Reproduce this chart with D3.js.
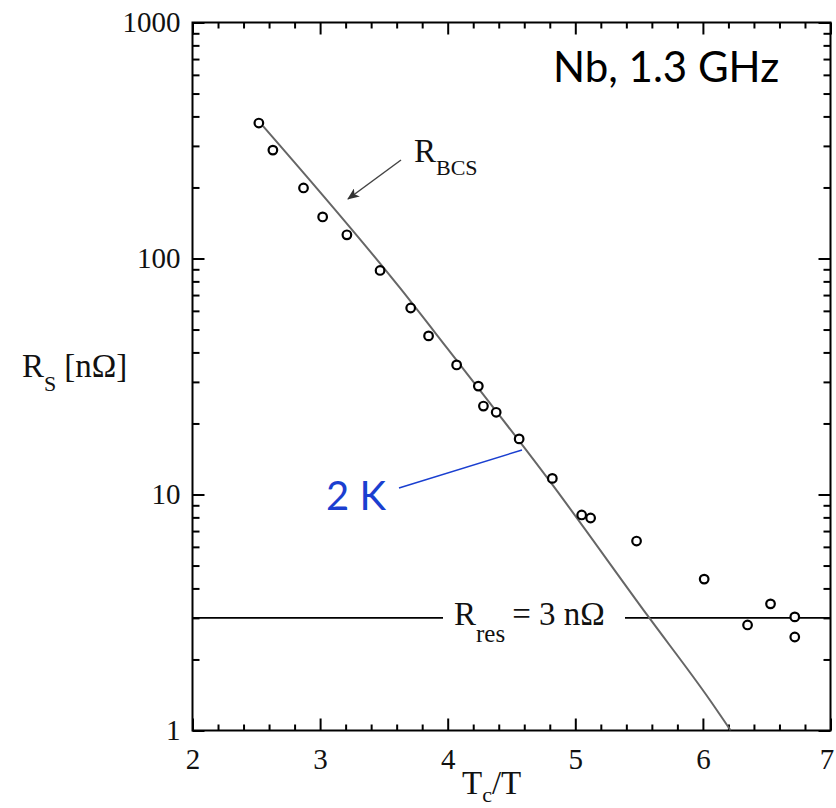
<!DOCTYPE html>
<html>
<head>
<meta charset="utf-8">
<script src="https://cdn.jsdelivr.net/npm/d3@7"></script>
<style>
  html, body { margin: 0; padding: 0; background: #fff; }
  svg { display: block; }
</style>
</head>
<body>
<svg id="chart" width="836" height="808"></svg>
<script>
// ---- data ----
const tcOverT = [2.52, 2.63, 2.87, 3.02, 3.21, 3.47, 3.71, 3.85, 4.07, 4.24, 4.28, 4.38, 4.56, 4.82, 5.05, 5.12, 5.48, 6.01, 6.35, 6.53, 6.72, 6.72];
const rsValues = [375, 288, 199, 150, 126, 89, 61.7, 47, 35.4, 28.8, 23.7, 22.3, 17.2, 11.7, 8.19, 7.95, 6.35, 4.38, 2.80, 3.44, 3.03, 2.49];
const bcsX = [2.553, 3.626, 3.994, 4.794, 5.570, 6.053, 6.218];
const bcsR = [364, 75, 41.8, 11.5, 3.05, 1.35, 1.0];
const rRes = 3;
const xMajorTicks = [2, 3, 4, 5, 6, 7];
const yMajorTicks = [1, 10, 100, 1000];
const yTickLabels = ["1", "10", "100", "1000"];

// ---- layout ----
const svg = d3.select("#chart");
const L = 192.5, R = 830.5, T = 22.5, B = 730.5;
const x = d3.scaleLinear().domain([2, 7]).range([L, R]);
const y = d3.scaleLog().domain([1, 1000]).range([B, T]);

const serif = "'Liberation Serif', 'Times New Roman', serif";
const sans = "Lato, 'Open Sans', sans-serif";

// minor ticks
const xMinor = d3.range(2, 7.0001, 0.2).map(v => +v.toFixed(1)).filter(v => !xMajorTicks.includes(v));
const yMinor = [];
[1, 10, 100].forEach(d => { for (let k = 2; k <= 9; k++) yMinor.push(d * k); });

function styleAxis(g) {
  g.select(".domain").remove();
  g.selectAll(".tick line").attr("stroke", "#000").attr("stroke-width", 2);
  g.selectAll(".tick text").attr("font-family", serif).attr("font-size", 29).attr("fill", "#111");
}

// bottom axis
const bottomAxis = svg.append("g").attr("transform", `translate(0,${B})`)
  .call(d3.axisBottom(x).tickValues(xMajorTicks).tickSizeInner(-12).tickSizeOuter(0).tickPadding(18).tickFormat(d3.format("d")))
  .call(styleAxis);
bottomAxis.selectAll(".tick text").filter(d => d === 7).attr("dx", -4);
svg.append("g").attr("transform", `translate(0,${B})`)
  .call(d3.axisBottom(x).tickValues(xMinor).tickSizeInner(-6).tickSizeOuter(0).tickFormat(""))
  .call(styleAxis);
// top axis
svg.append("g").attr("transform", `translate(0,${T})`)
  .call(d3.axisTop(x).tickValues(xMajorTicks).tickSizeInner(-12).tickSizeOuter(0).tickFormat(""))
  .call(styleAxis);
svg.append("g").attr("transform", `translate(0,${T})`)
  .call(d3.axisTop(x).tickValues(xMinor).tickSizeInner(-6).tickSizeOuter(0).tickFormat(""))
  .call(styleAxis);
// left axis
svg.append("g").attr("transform", `translate(${L},0)`)
  .call(d3.axisLeft(y).tickValues(yMajorTicks).tickSizeInner(-12).tickSizeOuter(0).tickPadding(12)
    .tickFormat((d, i) => yTickLabels[i]))
  .call(styleAxis);
svg.append("g").attr("transform", `translate(${L},0)`)
  .call(d3.axisLeft(y).tickValues(yMinor).tickSizeInner(-7).tickSizeOuter(0).tickFormat(""))
  .call(styleAxis);
// right axis
svg.append("g").attr("transform", `translate(${R},0)`)
  .call(d3.axisRight(y).tickValues(yMajorTicks).tickSizeInner(-12).tickSizeOuter(0).tickFormat(""))
  .call(styleAxis);
svg.append("g").attr("transform", `translate(${R},0)`)
  .call(d3.axisRight(y).tickValues(yMinor).tickSizeInner(-7).tickSizeOuter(0).tickFormat(""))
  .call(styleAxis);

// frame
svg.append("rect").attr("x", L).attr("y", T).attr("width", R - L).attr("height", B - T)
  .attr("fill", "none").attr("stroke", "#000").attr("stroke-width", 2);

// clip
svg.append("clipPath").attr("id", "plotclip").append("rect")
  .attr("x", L).attr("y", T).attr("width", R - L).attr("height", B - T);

// R_res line with a gap for the label
const yRes = y(rRes);
svg.append("line").attr("x1", L).attr("x2", 443).attr("y1", yRes).attr("y2", yRes)
  .attr("stroke", "#000").attr("stroke-width", 1.6);
svg.append("line").attr("x1", 625).attr("x2", R).attr("y1", yRes).attr("y2", yRes)
  .attr("stroke", "#000").attr("stroke-width", 1.6);

// BCS curve
const bcsData = bcsX.map((v, i) => [v, bcsR[i]]);
svg.append("path").datum(bcsData)
  .attr("clip-path", "url(#plotclip)")
  .attr("d", d3.line().x(d => x(d[0])).y(d => y(d[1])).curve(d3.curveMonotoneX))
  .attr("fill", "none").attr("stroke", "#666").attr("stroke-width", 2);

// data points
svg.append("g").selectAll("circle").data(tcOverT.map((v, i) => [v, rsValues[i]]))
  .join("circle")
  .attr("cx", d => x(d[0])).attr("cy", d => y(d[1])).attr("r", 4.3)
  .attr("fill", "#fff").attr("stroke", "#000").attr("stroke-width", 2.2);

// axis labels
const xl = svg.append("text").attr("font-family", serif).attr("font-size", 33).attr("fill", "#111")
  .attr("x", 462).attr("y", 794);
xl.append("tspan").text("T");
xl.append("tspan").attr("font-size", 22).attr("dy", 8).text("c");
xl.append("tspan").attr("dy", -8).text("/T");

const yl = svg.append("text").attr("font-family", serif).attr("font-size", 33).attr("fill", "#111")
  .attr("x", 22).attr("y", 377);
yl.append("tspan").text("R");
yl.append("tspan").attr("font-size", 22).attr("dy", 14).text("S");
yl.append("tspan").attr("dy", -14).attr("dx", 8).text("[nΩ]");

// R_BCS annotation
const rb = svg.append("text").attr("font-family", serif).attr("font-size", 33).attr("fill", "#111")
  .attr("x", 414).attr("y", 162);
rb.append("tspan").text("R");
rb.append("tspan").attr("font-size", 22).attr("dy", 13).text("BCS");

svg.append("defs").append("marker").attr("id", "arrowhead")
  .attr("viewBox", "0 0 12 10").attr("refX", 11).attr("refY", 5)
  .attr("markerWidth", 12).attr("markerHeight", 10).attr("markerUnits", "userSpaceOnUse")
  .attr("orient", "auto")
  .append("path").attr("d", "M0,0 L12,5 L0,10 L3,5 Z").attr("fill", "#333");
svg.append("line").attr("x1", 401).attr("y1", 160).attr("x2", 348).attr("y2", 199)
  .attr("stroke", "#444").attr("stroke-width", 1.5).attr("marker-end", "url(#arrowhead)");

// R_res label
const rr = svg.append("text").attr("font-family", serif).attr("font-size", 33).attr("fill", "#111")
  .attr("x", 454).attr("y", 625);
rr.append("tspan").text("R");
rr.append("tspan").attr("font-size", 25).attr("dy", 17).text("res");
rr.append("tspan").attr("dy", -17).attr("dx", 7).text("= 3 nΩ");

// Nb, 1.3 GHz
svg.append("text").attr("font-family", sans).attr("font-size", 42).attr("fill", "#000")
  .attr("x", 553).attr("y", 82).text("Nb, 1.3 GHz");

// 2 K label and leader
svg.append("text").attr("font-family", sans).attr("font-size", 40).attr("fill", "#1a3fd0")
  .attr("x", 326).attr("y", 510).text("2 K");
svg.append("line").attr("x1", 399).attr("y1", 488).attr("x2", 522).attr("y2", 450)
  .attr("stroke", "#1a3fd0").attr("stroke-width", 1.5);
</script>
</body>
</html>
